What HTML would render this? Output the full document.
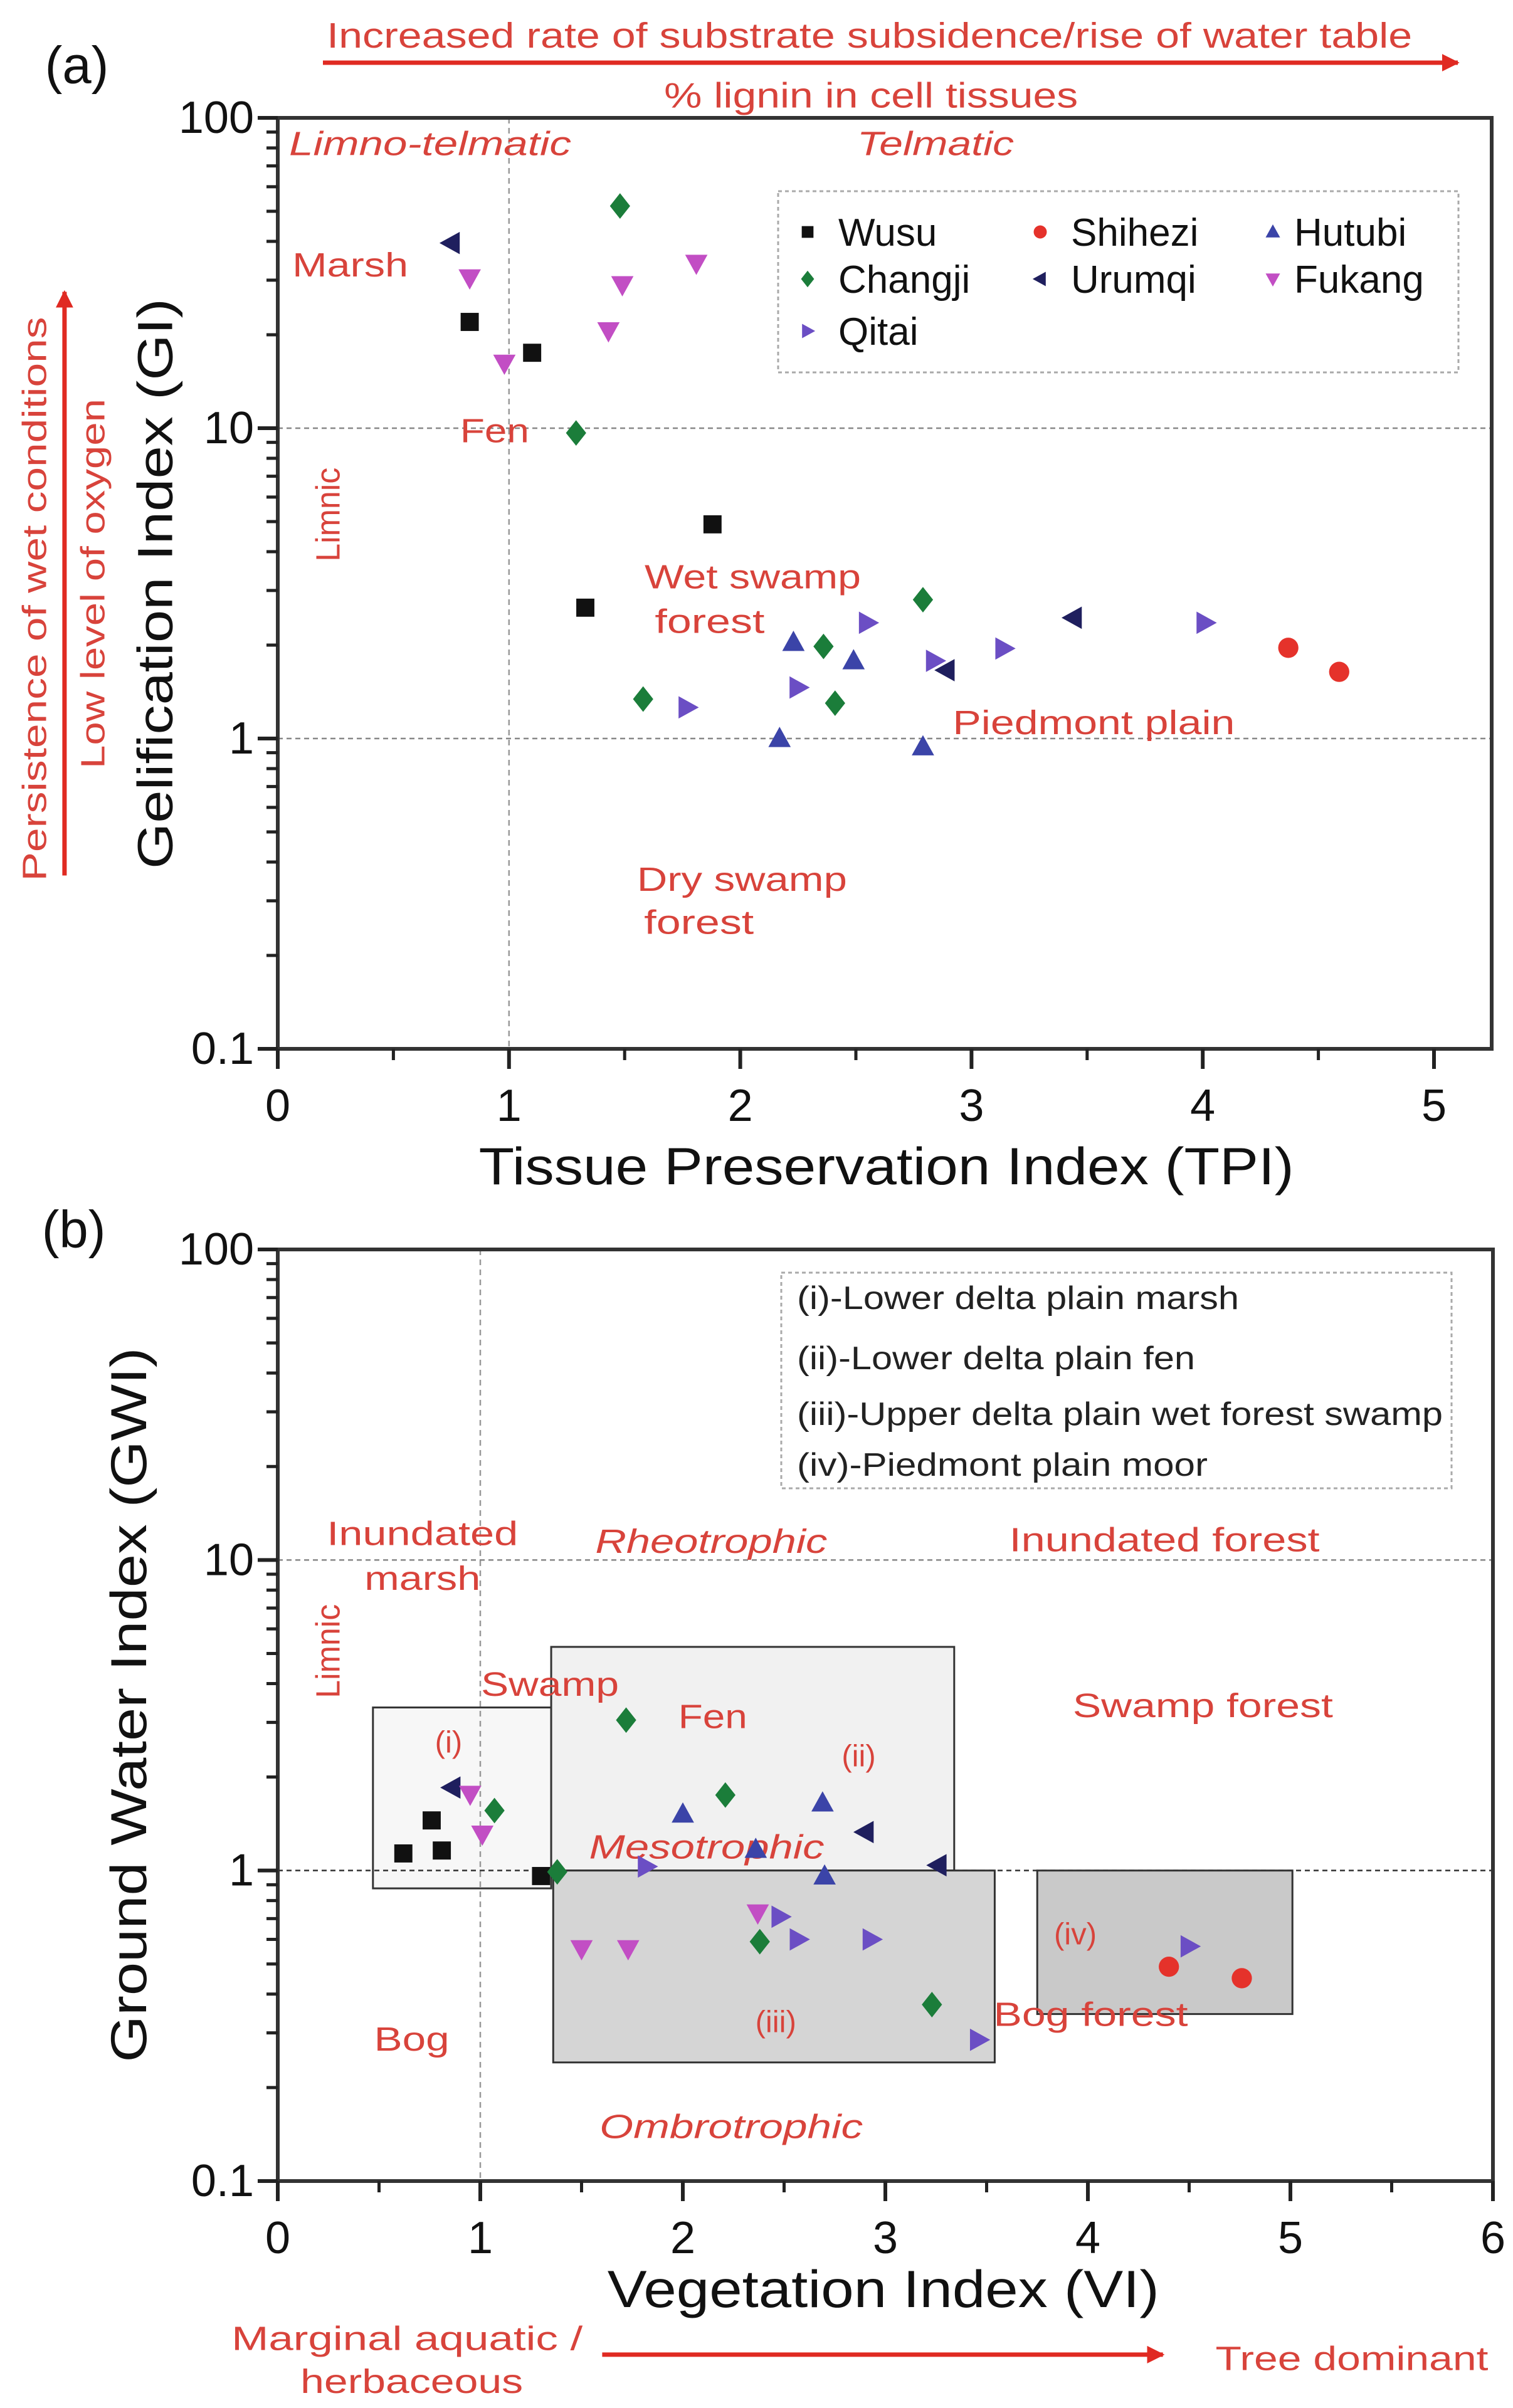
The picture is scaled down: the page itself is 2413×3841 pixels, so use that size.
<!DOCTYPE html>
<html><head><meta charset="utf-8">
<style>
html,body{margin:0;padding:0;background:#fff;}
svg{display:block;font-family:"Liberation Sans",sans-serif;}
</style></head>
<body>
<svg id="chart" xmlns="http://www.w3.org/2000/svg" width="2413" height="3841" viewBox="0 0 2413 3841">
<rect x="0" y="0" width="2413" height="3841" fill="#fff"/>
<defs>
<marker id="arr" viewBox="0 0 10 10" refX="9" refY="5" markerWidth="4" markerHeight="4" orient="auto"><path d="M0,0 L10,5 L0,10 z" fill="#e02a22"/></marker>
</defs>
<g id="boxes"></g>
<g id="grid"></g>
<g id="axes"></g>
<g id="labels"></g>
<g id="points"></g>
</svg>
<script>
// ---------- DATA ----------
const seriesNames = ["Wusu","Shihezi","Hutubi","Changji","Urumqi","Fukang","Qitai"];
// Panel (a): TPI (x) and GI (y)
const aWusuX=[0.83,1.10,1.88,1.33], aWusuY=[22,17.5,4.9,2.64];
const aShiheziX=[4.37,4.59], aShiheziY=[1.96,1.64];
const aHutubiX=[2.23,2.49,2.17,2.79], aHutubiY=[2.04,1.78,1.0,0.94];
const aChangjiX=[1.48,1.29,2.79,2.36,1.58,2.41], aChangjiY=[52,9.65,2.8,1.98,1.34,1.3];
const aUrumqiX=[0.75,3.44,2.89], aUrumqiY=[39.5,2.45,1.66];
const aFukangX=[0.83,0.98,1.49,1.43,1.81], aFukangY=[30.5,16.2,29,20.6,34];
const aQitaiX=[2.55,2.25,1.77,2.84,3.14,4.01], aQitaiY=[2.36,1.46,1.26,1.78,1.95,2.36];
// Panel (b): VI (x) and GWI (y)
const bWusuX=[0.62,0.76,0.81,1.30], bWusuY=[1.135,1.45,1.16,0.96];
const bShiheziX=[4.40,4.76], bShiheziY=[0.49,0.45];
const bHutubiX=[2.0,2.69,2.36,2.70], bHutubiY=[1.52,1.65,1.17,0.96];
const bChangjiX=[1.07,1.38,1.72,2.21,2.38,3.23], bChangjiY=[1.56,0.99,3.05,1.75,0.59,0.37];
const bUrumqiX=[0.86,2.90,3.26], bUrumqiY=[1.85,1.33,1.04];
const bFukangX=[0.95,1.01,1.50,1.73,2.37], bFukangY=[1.76,1.31,0.56,0.56,0.73];
const bQitaiX=[1.82,2.48,2.57,2.93,3.46,4.50], bQitaiY=[1.03,0.71,0.60,0.60,0.285,0.57];
// Panel (b) shaded boxes [x0,x1,yTop,yBottom]
const boxNames=["box-i","box-ii","box-iii","box-iv"];
const boxX0=[0.47,1.35,1.36,3.75], boxX1=[1.35,3.34,3.54,5.01];
const boxYTop=[3.35,5.25,1.0,1.0], boxYBot=[0.876,1.0,0.241,0.345];
const xTicksA=[0,1,2,3,4,5], xTicksB=[0,1,2,3,4,5,6];
const yTickLabels=["0.1","1","10","100"];

// ---------- STYLE ----------
const colors=["#111111","#e5322b","#3b44a8","#1b7d3a","#1f1f5e","#c24ec4","#6b4ec4"];
const shapes=["square","circle","up","diamond","left","down","right"];
const NS="http://www.w3.org/2000/svg";
function el(tag,attrs,parent){const e=document.createElementNS(NS,tag);for(const k in attrs)e.setAttribute(k,attrs[k]);parent.appendChild(e);return e;}

const PA={L:443,R:2379,T:188,B:1673,xmax:(2379-443)/368.8,unit:368.8};
const PB={L:443,R:2381,T:1993,B:3479,xmax:6,unit:323};
function sx(P,v){return P.L+v*P.unit;}
function sy(P,v){return P.B-(Math.log10(v)+1)/3*(P.B-P.T);}

const gBoxes=document.getElementById('boxes'),gGrid=document.getElementById('grid'),gAxes=document.getElementById('axes'),gLab=document.getElementById('labels'),gPts=document.getElementById('points');

const boxFill=["#f7f7f7","#f1f1f1","#d5d5d5","#c9c9c9"];
for(let i=0;i<boxNames.length;i++){
  const r=el('rect',{x:sx(PB,boxX0[i]),y:sy(PB,boxYTop[i]),width:sx(PB,boxX1[i])-sx(PB,boxX0[i]),height:sy(PB,boxYBot[i])-sy(PB,boxYTop[i]),fill:boxFill[i],stroke:"#333","stroke-width":3},gBoxes);
  
  
}

function axes(P,xt,name){
  const v=el('line',{x1:sx(P,1),x2:sx(P,1),y1:P.T,y2:P.B,stroke:"#999","stroke-width":2.5,"stroke-dasharray":"9,7"},gGrid);
  
  [10,1].forEach(val=>{
    const h=el('line',{x1:P.L,x2:P.R,y1:sy(P,val),y2:sy(P,val),stroke:(name==='b'&&val===1)?"#333":"#888","stroke-width":2.5,"stroke-dasharray":"8,6"},gGrid);
    
  });
  const f=el('rect',{x:P.L,y:P.T,width:P.R-P.L,height:P.B-P.T,fill:"none",stroke:"#333","stroke-width":6},gAxes);
  
  for(let d=-1;d<=2;d++){
    const y=sy(P,Math.pow(10,d));
    el('line',{x1:P.L-32,x2:P.L,y1:y,y2:y,stroke:"#222","stroke-width":6},gAxes);
    const t=el('text',{x:P.L-38,y:y+24,"text-anchor":"end","font-size":72,fill:"#111"},gAxes);
    t.textContent=yTickLabels[d+1];
    
    if(d<2)for(let m=2;m<=9;m++){const ym=sy(P,m*Math.pow(10,d));el('line',{x1:P.L-18,x2:P.L,y1:ym,y2:ym,stroke:"#222","stroke-width":5},gAxes);}
  }
  xt.forEach(v=>{
    const x=sx(P,v);
    el('line',{x1:x,x2:x,y1:P.B,y2:P.B+32,stroke:"#222","stroke-width":6},gAxes);
    const t=el('text',{x:x,y:P.B+115,"text-anchor":"middle","font-size":72,fill:"#111"},gAxes);
    t.textContent=String(v);
    
    if(v+0.5<=P.xmax){const xm=sx(P,v+0.5);el('line',{x1:xm,x2:xm,y1:P.B,y2:P.B+18,stroke:"#222","stroke-width":5},gAxes);}
  });
}
axes(PA,xTicksA,'a');axes(PB,xTicksB,'b');

function marker(shape,x,y,s,color,parent){
  let e;
  if(shape==='square')e=el('rect',{x:x-s*0.85,y:y-s*0.85,width:s*1.7,height:s*1.7,fill:color},parent);
  else if(shape==='circle')e=el('circle',{cx:x,cy:y,r:s*0.95,fill:color},parent);
  else{
    let p;
    if(shape==='diamond')p=[[x,y-s*1.2],[x+s*0.95,y],[x,y+s*1.2],[x-s*0.95,y]];
    else if(shape==='up')p=[[x,y-s*1.1],[x+s*1.05,y+s*0.8],[x-s*1.05,y+s*0.8]];
    else if(shape==='down')p=[[x,y+s*1.1],[x+s*1.05,y-s*0.8],[x-s*1.05,y-s*0.8]];
    else if(shape==='left')p=[[x-s*1.1,y],[x+s*0.8,y-s*1.05],[x+s*0.8,y+s*1.05]];
    else p=[[x+s*1.1,y],[x-s*0.8,y-s*1.05],[x-s*0.8,y+s*1.05]];
    e=el('polygon',{points:p.map(q=>q.join(',')).join(' '),fill:color},parent);
  }
  return e;
}
const aX=[aWusuX,aShiheziX,aHutubiX,aChangjiX,aUrumqiX,aFukangX,aQitaiX],aY=[aWusuY,aShiheziY,aHutubiY,aChangjiY,aUrumqiY,aFukangY,aQitaiY];
const bX=[bWusuX,bShiheziX,bHutubiX,bChangjiX,bUrumqiX,bFukangX,bQitaiX],bY=[bWusuY,bShiheziY,bHutubiY,bChangjiY,bUrumqiY,bFukangY,bQitaiY];
for(let s=0;s<7;s++){
  for(let i=0;i<aX[s].length;i++){const m=marker(shapes[s],sx(PA,aX[s][i]),sy(PA,aY[s][i]),17,colors[s],gPts);
    }
  for(let i=0;i<bX[s].length;i++){const m=marker(shapes[s],sx(PB,bX[s][i]),sy(PB,bY[s][i]),17,colors[s],gPts);
    }
}

const lg=el('rect',{x:1241,y:305,width:1085,height:289,fill:"none",stroke:"#aaa","stroke-width":3,"stroke-dasharray":"6,5"},gLab);

const legX=[1288,1659,2030],legTX=[1337,1708,2064],legY=[370,445,528];
for(let s=0;s<7;s++){
  const c=s%3,r=Math.floor(s/3);
  marker(shapes[s],legX[c],legY[r],11,colors[s],gLab);
  const t=el('text',{x:legTX[c],y:legY[r]+22,"font-size":62,fill:"#111"},gLab);
  t.textContent=seriesNames[s];
  
}
const lb=el('rect',{x:1246,y:2030,width:1069,height:344,fill:"none",stroke:"#aaa","stroke-width":3,"stroke-dasharray":"6,5"},gLab);

const lbT=["(i)-Lower delta plain marsh","(ii)-Lower delta plain fen","(iii)-Upper delta plain wet forest swamp","(iv)-Piedmont plain moor"],lbY=[2070,2166,2255,2336],lbW=[705,635,1030,655];
for(let i=0;i<4;i++){const t=el('text',{x:1271,y:lbY[i]+18,"font-size":52,fill:"#222",textLength:lbW[i],lengthAdjust:"spacingAndGlyphs"},gLab);t.textContent=lbT[i];
  }

const S=2.45;
const anns=[
 ["(a)",50*S,54*S,34,"#111",0,0,0,"panel-a-label"],
 ["Increased rate of substrate subsidence/rise of water table",566*S,31*S,23,"#d8433b",0,0,1731,"top-arrow-label"],
 ["% lignin in cell tissues",567*S,70*S,23,"#d8433b",0,0,660,"lignin-label"],
 ["Limno-telmatic",280*S,101*S,22,"#d8433b",1,0,450,"limno-telmatic-label"],
 ["Telmatic",609*S,101*S,22,"#d8433b",1,0,250,"telmatic-label"],
 ["Marsh",228*S,180*S,22,"#d8433b",0,0,185,"marsh-label"],
 ["Fen",322*S,288*S,22,"#d8433b",0,0,110,"fen-label"],
 ["Wet swamp",490*S,383*S,22,"#d8433b",0,0,345,"wet-swamp-label"],
 ["forest",462*S,412*S,22,"#d8433b",0,0,175,"wet-swamp-forest-label"],
 ["Piedmont plain",712*S,478*S,22,"#d8433b",0,0,450,"piedmont-label"],
 ["Dry swamp",483*S,580*S,22,"#d8433b",0,0,335,"dry-swamp-label"],
 ["forest",455*S,608*S,22,"#d8433b",0,0,175,"dry-swamp-forest-label"],
 ["Tissue Preservation Index (TPI)",577*S,771*S,34,"#111",0,0,1300,"x-axis-title-a"],
 ["(b)",48*S,812*S,34,"#111",0,0,0,"panel-b-label"],
 ["Inundated",275*S,1006*S,22,"#d8433b",0,0,305,"inundated-marsh-label"],
 ["marsh",275*S,1035*S,22,"#d8433b",0,0,185,"marsh-b-label"],
 ["Rheotrophic",463*S,1011*S,22,"#d8433b",1,0,370,"rheotrophic-label"],
 ["Inundated forest",758*S,1010*S,22,"#d8433b",0,0,495,"inundated-forest-label"],
 ["Swamp",358*S,1104*S,22,"#d8433b",0,0,220,"swamp-label"],
 ["Fen",464*S,1125*S,22,"#d8433b",0,0,110,"fen-b-label"],
 ["(i)",292*S,1141*S,20,"#d8433b",0,0,0,"box-i-label"],
 ["(ii)",559*S,1150*S,20,"#d8433b",0,0,0,"box-ii-label"],
 ["Swamp forest",783*S,1118*S,22,"#d8433b",0,0,415,"swamp-forest-label"],
 ["Mesotrophic",460*S,1210*S,22,"#d8433b",1,0,375,"mesotrophic-label"],
 ["(iv)",700*S,1266*S,20,"#d8433b",0,0,0,"box-iv-label"],
 ["(iii)",505*S,1323*S,20,"#d8433b",0,0,0,"box-iii-label"],
 ["Bog forest",710*S,1319*S,22,"#d8433b",0,0,310,"bog-forest-label"],
 ["Bog",268*S,1335*S,22,"#d8433b",0,0,120,"bog-label"],
 ["Ombrotrophic",476*S,1392*S,22,"#d8433b",1,0,420,"ombrotrophic-label"],
 ["Vegetation Index (VI)",575*S,1502*S,34,"#111",0,0,880,"x-axis-title-b"],
 ["Marginal aquatic /",265*S,1530*S,22,"#d8433b",0,0,560,"marginal-aquatic-label"],
 ["herbaceous",268*S,1558*S,22,"#d8433b",0,0,355,"herbaceous-label"],
 ["Tree dominant",880*S,1543*S,22,"#d8433b",0,0,435,"tree-dominant-label"]
];
anns.forEach(a=>{
  const t=el('text',{x:a[1],y:a[2],"text-anchor":"middle","font-size":a[3]*S,fill:a[4]},gLab);
  if(a[5])t.setAttribute('font-style','italic');
  if(a[7])t.setAttribute('textLength',a[7]),t.setAttribute('lengthAdjust','spacingAndGlyphs');
  t.textContent=a[0];
  
});
const rots=[
 ["Gelification Index (GI)",112*S,380*S,32,"#111",910,"y-axis-title-a"],
 ["Persistence of wet conditions",30*S,390*S,22,"#d8433b",900,"wet-conditions-label"],
 ["Low level of oxygen",68*S,380*S,22,"#d8433b",590,"oxygen-label"],
 ["Limnic",221*S,335*S,22,"#d8433b",150,"limnic-a-label"],
 ["Ground Water Index (GWI)",95*S,1110*S,33,"#111",1140,"y-axis-title-b"],
 ["Limnic",221*S,1075*S,22,"#d8433b",150,"limnic-b-label"]
];
rots.forEach(a=>{
  const t=el('text',{x:a[1],y:a[2],"text-anchor":"middle","font-size":a[3]*S,fill:a[4],transform:`rotate(-90 ${a[1]} ${a[2]})`},gLab);
  if(a[5])t.setAttribute('textLength',a[5]),t.setAttribute('lengthAdjust','spacingAndGlyphs');
  t.textContent=a[0];
  
});
const arrows=[[515,100,2325,100,"top-arrow"],[42*S,570*S,42*S,190*S,"left-arrow"],[392*S,1533*S,757*S,1533*S,"bottom-arrow"]];
arrows.forEach(a=>{
  const l=el('line',{x1:a[0],y1:a[1],x2:a[2],y2:a[3],stroke:"#e02a22","stroke-width":7,"marker-end":"url(#arr)"},gLab);
  
});
</script>
</body></html>
